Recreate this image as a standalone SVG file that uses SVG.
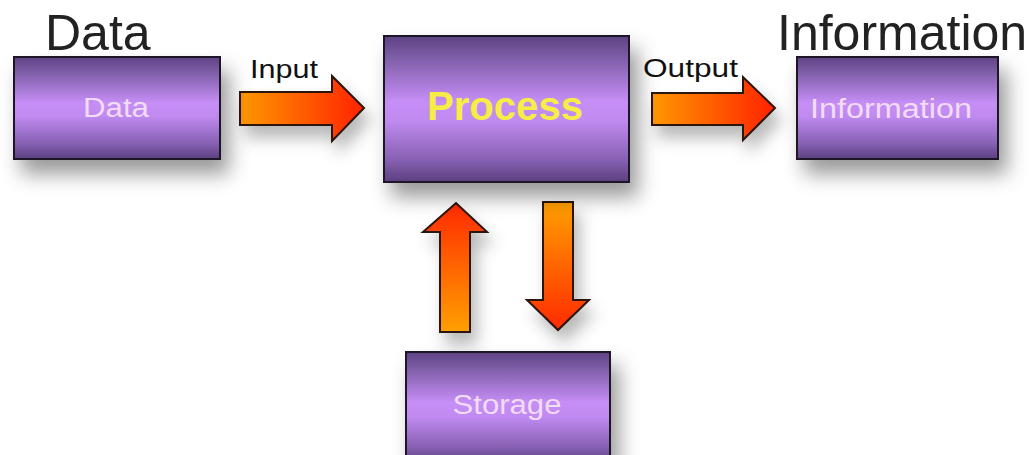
<svg xmlns="http://www.w3.org/2000/svg" width="1034" height="455" viewBox="0 0 1034 455">
<defs>
<linearGradient id="box" x1="0" y1="0" x2="0" y2="1">
<stop offset="0" stop-color="#5e4282"/>
<stop offset="0.15" stop-color="#7e5ea8"/>
<stop offset="0.45" stop-color="#c68ef6"/>
<stop offset="0.58" stop-color="#c08af0"/>
<stop offset="0.85" stop-color="#8660b2"/>
<stop offset="1" stop-color="#5c3f80"/>
</linearGradient>
<linearGradient id="gh" x1="0" y1="0" x2="1" y2="0">
<stop offset="0" stop-color="#ff9800"/>
<stop offset="1" stop-color="#ff2200"/>
</linearGradient>
<linearGradient id="gup" x1="0" y1="1" x2="0" y2="0">
<stop offset="0" stop-color="#ffa000"/>
<stop offset="1" stop-color="#ff2a00"/>
</linearGradient>
<linearGradient id="gdown" x1="0" y1="0" x2="0" y2="1">
<stop offset="0" stop-color="#ffa000"/>
<stop offset="1" stop-color="#ff2a00"/>
</linearGradient>
<filter id="sh" x="-30%" y="-30%" width="170%" height="190%">
<feDropShadow dx="8" dy="14" stdDeviation="10" flood-color="#000" flood-opacity="0.4"/>
</filter>
<filter id="sha" x="-40%" y="-40%" width="190%" height="200%">
<feDropShadow dx="6" dy="12" stdDeviation="8" flood-color="#000" flood-opacity="0.28"/>
</filter>
</defs>
<style>
.box{fill:url(#box);stroke:#1e1428;stroke-width:2}
.lbl{font-family:"Liberation Sans",Arial,sans-serif;font-size:27px;fill:#f2dcf4;text-anchor:middle}
.title{font-family:"Liberation Sans",Arial,sans-serif;font-size:50px;fill:#222}
.small{font-family:"Liberation Sans",Arial,sans-serif;font-size:26px;fill:#111}
.arr{stroke:#2a1208;stroke-width:2;stroke-linejoin:miter}
</style>
<rect width="1034" height="455" fill="#ffffff"/>

<g id="connectors">
<g id="input-arrow" filter="url(#sha)">
<polygon class="arr" fill="url(#gh)" points="240,92 332,92 332,76 364,108 332,141 332,125 240,125"/>
</g>
<text class="small" x="250" y="78" textLength="68" lengthAdjust="spacingAndGlyphs">Input</text>
<g id="output-arrow" filter="url(#sha)">
<polygon class="arr" fill="url(#gh)" points="652,93 743,93 743,77 775,108 743,140 743,125 652,125"/>
</g>
<text class="small" x="643" y="77" textLength="95" lengthAdjust="spacingAndGlyphs">Output</text>
<g id="up-arrow" filter="url(#sha)">
<polygon class="arr" fill="url(#gup)" points="440,332 440,232 423,232 456,203 487,232 470,232 470,332"/>
</g>
<g id="down-arrow" filter="url(#sha)">
<polygon class="arr" fill="url(#gdown)" points="543,202 573,202 573,300 589,300 558,330 527,300 543,300"/>
</g>
</g>

<g id="data">
<text class="title" x="45" y="50">Data</text>
<rect class="box" filter="url(#sh)" x="14" y="57" width="206" height="102"/>
<text class="lbl" x="116" y="117" textLength="66" lengthAdjust="spacingAndGlyphs">Data</text>
</g>

<g id="process">
<rect class="box" filter="url(#sh)" x="384" y="36" width="245" height="146"/>
<text x="505" y="120" text-anchor="middle" font-family="Liberation Sans,Arial,sans-serif" font-size="41" font-weight="bold" fill="#f6ee44" textLength="156" lengthAdjust="spacingAndGlyphs">Process</text>
</g>

<g id="information">
<text class="title" x="777" y="50">Information</text>
<rect class="box" filter="url(#sh)" x="797" y="57" width="201" height="102"/>
<text class="lbl" x="891" y="118" textLength="162" lengthAdjust="spacingAndGlyphs">Information</text>
</g>

<g id="storage">
<rect class="box" filter="url(#sh)" x="406" y="352" width="204" height="112"/>
<text class="lbl" x="507" y="414" textLength="109" lengthAdjust="spacingAndGlyphs">Storage</text>
</g>
</svg>
